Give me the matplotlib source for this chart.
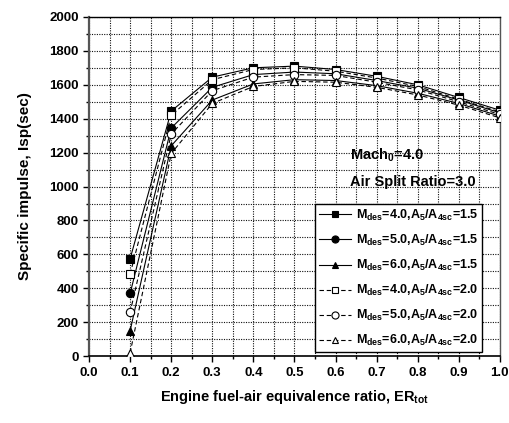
import matplotlib
matplotlib.use("Agg")
import matplotlib.pyplot as plt
from matplotlib.ticker import MultipleLocator

plt.rcParams['font.family'] = ['Liberation Sans', 'DejaVu Sans']
plt.rcParams['font.weight'] = 'bold'
plt.rcParams['mathtext.fontset'] = 'custom'
plt.rcParams['mathtext.rm'] = 'Liberation Sans:bold'
plt.rcParams['mathtext.it'] = 'Liberation Sans:bold'
plt.rcParams['mathtext.bf'] = 'Liberation Sans:bold'
plt.rcParams['mathtext.default'] = 'rm'

er = [0.1, 0.2, 0.3, 0.4, 0.5, 0.6, 0.7, 0.8, 0.9, 1.0]
m4_15 = [575, 1445, 1645, 1700, 1710, 1690, 1650, 1600, 1525, 1450]
m5_15 = [370, 1345, 1585, 1660, 1675, 1665, 1625, 1580, 1510, 1435]
m6_15 = [150, 1240, 1510, 1605, 1630, 1625, 1595, 1550, 1490, 1415]
m4_20 = [485, 1420, 1630, 1690, 1700, 1680, 1640, 1590, 1515, 1440]
m5_20 = [260, 1310, 1565, 1645, 1660, 1655, 1615, 1570, 1500, 1425]
m6_20 = [20, 1195, 1490, 1590, 1620, 1615, 1585, 1540, 1480, 1405]

labels = [
    r"M$_{des}$=4.0,A$_5$/A$_{4sc}$=1.5",
    r"M$_{des}$=5.0,A$_5$/A$_{4sc}$=1.5",
    r"M$_{des}$=6.0,A$_5$/A$_{4sc}$=1.5",
    r"M$_{des}$=4.0,A$_5$/A$_{4sc}$=2.0",
    r"M$_{des}$=5.0,A$_5$/A$_{4sc}$=2.0",
    r"M$_{des}$=6.0,A$_5$/A$_{4sc}$=2.0",
]
series = [m4_15, m5_15, m6_15, m4_20, m5_20, m6_20]
markers = ['s', 'o', '^', 's', 'o', '^']
filled = [True, True, True, False, False, False]

fig = plt.figure(figsize=(5.09, 4.23), dpi=100)
ax = fig.add_axes([0.175, 0.158, 0.807, 0.802])

for ys, mk, fl, lb in zip(series, markers, filled, labels):
    ax.plot(er, ys, color='black', lw=0.8,
            linestyle='-' if fl else (0, (4, 2.5)),
            marker=mk, markersize=5.5 if mk != 'o' else 6,
            markerfacecolor='black' if fl else 'white',
            markeredgecolor='black', markeredgewidth=0.8, label=lb, zorder=3)

ax.set_xlim(0, 1.0)
ax.set_ylim(0, 2000)
ax.xaxis.set_major_locator(MultipleLocator(0.1))
ax.xaxis.set_minor_locator(MultipleLocator(0.05))
ax.yaxis.set_major_locator(MultipleLocator(200))
ax.yaxis.set_minor_locator(MultipleLocator(100))
ax.set_xticklabels([f"{v:.1f}" for v in ax.get_xticks()])
ax.grid(True, which='both', linestyle=(0, (1, 1.2)), color='#111111', lw=0.8, zorder=0)
ax.tick_params(which='major', direction='out', length=4, width=1, labelsize=9.5)
ax.tick_params(which='minor', direction='out', length=2.5, width=1)
for lab in ax.get_xticklabels() + ax.get_yticklabels():
    lab.set_fontweight('bold')
ax.spines['left'].set_linewidth(1.6)
ax.spines['left'].set_color('#555555')
ax.spines['bottom'].set_linewidth(1.2)
ax.spines['top'].set_linewidth(1.0)
ax.spines['right'].set_linewidth(1.0)
ax.spines['right'].set_color('#555555')

ax.set_xlabel(r"Engine fuel-air equivalence ratio, ER$_{tot}$", fontsize=10.5, fontweight='bold', labelpad=7)
ax.set_ylabel("Specific impulse, Isp(sec)", fontsize=11, fontweight='bold', labelpad=12)

ax.text(0.635, 1185, r"Mach$_0$=4.0", fontsize=10.5, fontweight='bold', va='center', ha='left')
ax.text(0.635, 1025, "Air Split Ratio=3.0", fontsize=10.5, fontweight='bold', va='center', ha='left')

leg = ax.legend(loc='lower right', bbox_to_anchor=(0.957, 0.012), borderaxespad=0,
                fontsize=9, frameon=True, fancybox=False, edgecolor='black',
                framealpha=1, handlelength=2.6, labelspacing=0.8, borderpad=0.3,
                handletextpad=0.4, markerscale=0.85)
leg.get_frame().set_linewidth(1.0)

fig.savefig("out.png", dpi=100)
